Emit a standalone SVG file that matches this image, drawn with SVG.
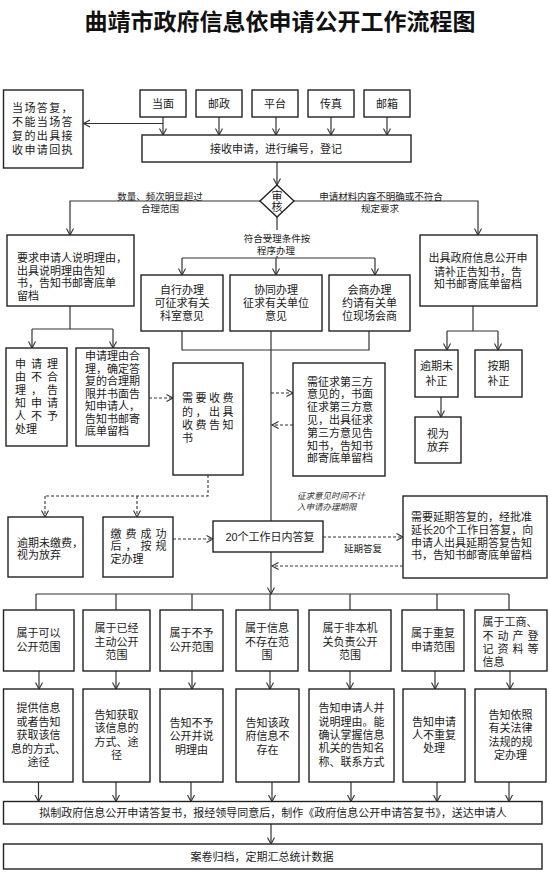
<svg xmlns="http://www.w3.org/2000/svg" width="550" height="874" viewBox="0 0 550 874">
<defs>
<style>
.b{fill:#fff;stroke:#222;stroke-width:1.4}
.c{fill:none;stroke:#333;stroke-width:1.2}
.d{fill:none;stroke:#333;stroke-width:1.1;stroke-dasharray:3 2}
.ar{marker-end:url(#a)}
text{font-family:"Liberation Sans","Noto Sans CJK SC",sans-serif;fill:#1a1a1a;font-size:11px}
.m{text-anchor:middle}
.s{font-size:9.5px}
.k{font-size:8.5px;font-style:italic;fill:#333}
.t{font-size:23px;font-weight:bold;fill:#111}
</style>
<marker id="a" markerWidth="10" markerHeight="10" refX="7" refY="4" orient="auto" markerUnits="userSpaceOnUse">
<path d="M0.5,0.5 L7,4 L0.5,7.5" fill="none" stroke="#333" stroke-width="1.1"/>
</marker>
</defs>
<rect width="550" height="874" fill="#fff"/>
<text class="t m" x="280" y="30">曲靖市政府信息依申请公开工作流程图</text>

<g id="connectors">
<path class="c ar" d="M163,117V135"/>
<path class="c ar" d="M219,117V135"/>
<path class="c ar" d="M276,117V135"/>
<path class="c ar" d="M331,117V135"/>
<path class="c ar" d="M387,117V135"/>
<path class="c ar" d="M163,123.5H83.5"/>
<path class="c ar" d="M277,162V185"/>
<path class="c ar" d="M260,201H70V235"/>
<path class="c ar" d="M294,201H478V235"/>
<path class="c" d="M277,217V258"/>
<path class="c" d="M182,258H375"/>
<path class="c ar" d="M182,258V275"/>
<path class="c ar" d="M276,258V275"/>
<path class="c ar" d="M375,258V275"/>
<path class="c" d="M182,331V350H369V331"/>
<path class="c" d="M271,331V521"/>
<path class="c" d="M70,306V329"/>
<path class="c" d="M32,329H113"/>
<path class="c ar" d="M32,329V348"/>
<path class="c ar" d="M113,329V348"/>
<path class="c" d="M473,306V331"/>
<path class="c" d="M447,331H498"/>
<path class="c ar" d="M447,331V350"/>
<path class="c ar" d="M498,331V350"/>
<path class="c ar" d="M441,397V417"/>
<path class="d ar" d="M149,398H173"/>
<path class="d" d="M208,475V496H45"/>
<path class="d ar" d="M45,496V517"/>
<path class="d ar" d="M137,496V517"/>
<path class="d ar" d="M271,393H293"/>
<path class="d ar" d="M293,425H272"/>
<path class="d ar" d="M173,539H213"/>
<path class="d ar" d="M323,537H403"/>
<path class="d ar" d="M403,566H272"/>
<path class="c ar" d="M271,552V594"/>
<path class="c" d="M36,594H509"/>
<path class="c" d="M36,594V610M116,594V610M192,594V610M270,594V610M350,594V610M437,594V610M509,594V610"/>
<path class="c ar" d="M39,671V689"/>
<path class="c ar" d="M116,671V689"/>
<path class="c ar" d="M192,671V689"/>
<path class="c ar" d="M270,671V689"/>
<path class="c ar" d="M350,671V689"/>
<path class="c ar" d="M435,671V689"/>
<path class="c ar" d="M510,671V689"/>
<path class="c ar" d="M38.5,782V801.5"/>
<path class="c ar" d="M116,782V801.5"/>
<path class="c ar" d="M191,782V801.5"/>
<path class="c ar" d="M272,782V801.5"/>
<path class="c ar" d="M351,782V801.5"/>
<path class="c ar" d="M437,782V801.5"/>
<path class="c ar" d="M509,782V801.5"/>
<path class="c ar" d="M271,824V844"/>
</g>

<g id="labels">
<text class="s m"><tspan x="160" y="199.5">数量、频次明显超过</tspan><tspan x="160" y="211.5">合理范围</tspan></text>
<text class="s m"><tspan x="381" y="199.5">申请材料内容不明确或不符合</tspan><tspan x="380" y="211.5">规定要求</tspan></text>
<rect x="240" y="230" width="72" height="26" fill="#fff"/>
<text class="s m"><tspan x="277" y="241.5">符合受理条件按</tspan><tspan x="276" y="253.5">程序办理</tspan></text>
<text class="k"><tspan x="297" y="498.5">征求意见时间不计</tspan><tspan x="297" y="510">入申请办理期限</tspan></text>
<text class="s m" x="363" y="552">延期答复</text>
</g>

<g id="n-dangmian"><rect class="b" x="140" y="90" width="46" height="27"/><text class="m" x="163" y="107.5">当面</text></g>
<g id="n-youzheng"><rect class="b" x="196" y="90" width="46" height="27"/><text class="m" x="219" y="107.5">邮政</text></g>
<g id="n-pingtai"><rect class="b" x="252" y="90" width="46" height="27"/><text class="m" x="275" y="107.5">平台</text></g>
<g id="n-chuanzhen"><rect class="b" x="308" y="90" width="46" height="27"/><text class="m" x="331" y="107.5">传真</text></g>
<g id="n-youxiang"><rect class="b" x="364" y="90" width="46" height="27"/><text class="m" x="387" y="107.5">邮箱</text></g>

<g id="n-dangchang"><rect class="b" x="3.5" y="90" width="79.5" height="78"/>
<text letter-spacing="1.4"><tspan x="12" y="112">当场答复，</tspan><tspan x="12" y="126">不能当场答</tspan><tspan x="12" y="140">复的出具接</tspan><tspan x="12" y="154">收申请回执</tspan></text></g>

<g id="n-jieshou"><rect class="b" x="142" y="135" width="269" height="27"/><text class="m" x="276" y="152.5">接收申请，进行编号，登记</text></g>

<g id="n-shenhe"><polygon class="b" points="277,185 294,201 277,217 260,201"/>
<text class="m" font-size="8.5"><tspan x="277" y="200">审</tspan><tspan x="277" y="211">核</tspan></text></g>

<g id="n-yaoqiu"><rect class="b" x="7" y="235" width="127" height="71"/>
<text><tspan x="17" y="262">要求申请人说明理由，</tspan><tspan x="17" y="274.5">出具说明理由告知</tspan><tspan x="17" y="287">书，告知书邮寄底单</tspan><tspan x="17" y="299.5">留档</tspan></text></g>

<g id="n-chuju"><rect class="b" x="420" y="235" width="117" height="71"/>
<text class="m"><tspan x="478" y="262">出具政府信息公开申</tspan><tspan x="478" y="275.5">请补正告知书，告</tspan><tspan x="478" y="288">知书邮寄底单留档</tspan></text></g>

<g id="n-zixing"><rect class="b" x="141" y="275" width="82" height="56"/>
<text class="m"><tspan x="182" y="294">自行办理</tspan><tspan x="182" y="307">可征求有关</tspan><tspan x="182" y="320">科室意见</tspan></text></g>
<g id="n-xietong"><rect class="b" x="230" y="275" width="92" height="56"/>
<text class="m"><tspan x="276" y="294">协同办理</tspan><tspan x="276" y="307">征求有关单位</tspan><tspan x="276" y="320">意见</tspan></text></g>
<g id="n-huishang"><rect class="b" x="329" y="275" width="81" height="56"/>
<text class="m"><tspan x="369.5" y="294">会商办理</tspan><tspan x="369.5" y="307">约请有关单</tspan><tspan x="369.5" y="320">位现场会商</tspan></text></g>

<g id="n-buheli"><rect class="b" x="6" y="348" width="61" height="98"/>
<text><tspan x="15 31 47" y="368">申请理</tspan><tspan x="15 31 47" y="381">由不合</tspan><tspan x="15 31 47" y="394">理，告</tspan><tspan x="15 31 47" y="407">知申请</tspan><tspan x="15 31 47" y="420">人不予</tspan><tspan x="15" y="433">处理</tspan></text></g>

<g id="n-heli"><rect class="b" x="76" y="348" width="73" height="98"/>
<text><tspan x="85" y="360">申请理由合</tspan><tspan x="85" y="372.5">理，确定答</tspan><tspan x="85" y="385">复的合理期</tspan><tspan x="85" y="397.5">限并书面告</tspan><tspan x="85" y="410">知申请人，</tspan><tspan x="85" y="422.5">告知书邮寄</tspan><tspan x="85" y="435">底单留档</tspan></text></g>

<g id="n-shoufei"><rect class="b" x="173" y="363" width="70" height="112"/>
<text><tspan x="182 195.5 209 222.5" y="402">需要收费</tspan><tspan x="182 195.5 209 222.5" y="416">的，出具</tspan><tspan x="182 195.5 209 222.5" y="429">收费告知</tspan><tspan x="182" y="442">书</tspan></text></g>

<g id="n-disanfang"><rect class="b" x="293" y="363" width="92" height="113"/>
<text><tspan x="307" y="385.5">需征求第三方</tspan><tspan x="307" y="398.3">意见的，书面</tspan><tspan x="307" y="411.1">征求第三方意</tspan><tspan x="307" y="423.9">见，出具征求</tspan><tspan x="307" y="436.7">第三方意见告</tspan><tspan x="307" y="449.5">知书，告知书</tspan><tspan x="307" y="462.3">邮寄底单留档</tspan></text></g>

<g id="n-yuqiweibuzheng"><rect class="b" x="415" y="350" width="43" height="47"/>
<text class="m"><tspan x="436.5" y="370">逾期未</tspan><tspan x="436.5" y="384.5">补正</tspan></text></g>
<g id="n-anqibuzheng"><rect class="b" x="475" y="350" width="47" height="47"/>
<text class="m"><tspan x="498.5" y="370">按期</tspan><tspan x="498.5" y="384.5">补正</tspan></text></g>
<g id="n-fangqi"><rect class="b" x="415" y="417" width="46" height="46"/>
<text class="m"><tspan x="438" y="438">视为</tspan><tspan x="438" y="451">放弃</tspan></text></g>

<g id="n-weijiaofei"><rect class="b" x="8" y="517" width="75" height="60"/>
<text><tspan x="17" y="546.5">逾期未缴费，</tspan><tspan x="17" y="559">视为放弃</tspan></text></g>
<g id="n-jiaofei"><rect class="b" x="103" y="517" width="70" height="60"/>
<text><tspan x="110.5 125.5 140.5 155.5" y="537.5">缴费成功</tspan><tspan x="110.5 125.5 140.5 155.5" y="550">后，按规</tspan><tspan x="110.5" y="562.5">定办理</tspan></text></g>

<g id="n-20ri"><rect class="b" x="213" y="521" width="110" height="31"/>
<text class="m" x="270" y="540.5">20个工作日内答复</text></g>

<g id="n-yanqi"><rect class="b" x="403" y="496" width="144" height="82"/>
<text font-size="11.3"><tspan x="411" y="521">需要延期答复的，经批准</tspan><tspan x="411" y="533.8">延长20个工作日答复，向</tspan><tspan x="411" y="546.6">申请人出具延期答复告知</tspan><tspan x="411" y="559.4">书，告知书邮寄底单留档</tspan></text></g>

<g id="n-r1-1"><rect class="b" x="3.5" y="610" width="70.5" height="61"/>
<text class="m"><tspan x="38.5" y="637">属于可以</tspan><tspan x="38.5" y="651">公开范围</tspan></text></g>
<g id="n-r1-2"><rect class="b" x="83" y="610" width="67" height="61"/>
<text class="m"><tspan x="116.5" y="632">属于已经</tspan><tspan x="116.5" y="645.5">主动公开</tspan><tspan x="116.5" y="659">范围</tspan></text></g>
<g id="n-r1-3"><rect class="b" x="160" y="610" width="63" height="61"/>
<text class="m"><tspan x="191.5" y="637">属于不予</tspan><tspan x="191.5" y="651">公开范围</tspan></text></g>
<g id="n-r1-4"><rect class="b" x="236" y="610" width="62" height="61"/>
<text class="m"><tspan x="267" y="632">属于信息</tspan><tspan x="267" y="645.5">不存在范</tspan><tspan x="267" y="659">围</tspan></text></g>
<g id="n-r1-5"><rect class="b" x="309" y="610" width="82" height="61"/>
<text class="m"><tspan x="350" y="632">属于非本机</tspan><tspan x="350" y="645.5">关负责公开</tspan><tspan x="350" y="659">范围</tspan></text></g>
<g id="n-r1-6"><rect class="b" x="402" y="610" width="62" height="61"/>
<text class="m"><tspan x="433" y="637">属于重复</tspan><tspan x="433" y="651">申请范围</tspan></text></g>
<g id="n-r1-7"><rect class="b" x="475" y="610" width="72" height="61"/>
<text><tspan x="482.5" y="626">属于工商、</tspan><tspan x="482.5 497.5 512.5 527.5" y="640">不动产登</tspan><tspan x="482.5 497.5 512.5 527.5" y="653">记资料等</tspan><tspan x="482.5" y="666">信息</tspan></text></g>

<g id="n-r2-1"><rect class="b" x="3.5" y="689" width="69.5" height="93"/>
<text class="m"><tspan x="38.5" y="712">提供信息</tspan><tspan x="38.5" y="725.5">或者告知</tspan><tspan x="38.5" y="739">获取该信</tspan><tspan x="38.5" y="752.5">息的方式、</tspan><tspan x="38.5" y="766">途径</tspan></text></g>
<g id="n-r2-2"><rect class="b" x="83" y="689" width="67" height="93"/>
<text class="m"><tspan x="116.5" y="719">告知获取</tspan><tspan x="116.5" y="732">该信息的</tspan><tspan x="116.5" y="746">方式、途</tspan><tspan x="116.5" y="759">径</tspan></text></g>
<g id="n-r2-3"><rect class="b" x="160" y="689" width="63" height="93"/>
<text class="m"><tspan x="191.5" y="727">告知不予</tspan><tspan x="191.5" y="740">公开并说</tspan><tspan x="191.5" y="754">明理由</tspan></text></g>
<g id="n-r2-4"><rect class="b" x="236" y="689" width="63" height="93"/>
<text class="m"><tspan x="267.5" y="727">告知该政</tspan><tspan x="267.5" y="740">府信息不</tspan><tspan x="267.5" y="754">存在</tspan></text></g>
<g id="n-r2-5"><rect class="b" x="309" y="689" width="85" height="93"/>
<text class="m"><tspan x="351.5" y="712">告知申请人并</tspan><tspan x="351.5" y="726">说明理由。能</tspan><tspan x="351.5" y="739">确认掌握信息</tspan><tspan x="351.5" y="752">机关的告知名</tspan><tspan x="351.5" y="766">称、联系方式</tspan></text></g>
<g id="n-r2-6"><rect class="b" x="403" y="689" width="62" height="93"/>
<text class="m"><tspan x="434" y="726">告知申请</tspan><tspan x="434" y="739">人不重复</tspan><tspan x="434" y="752">处理</tspan></text></g>
<g id="n-r2-7"><rect class="b" x="475" y="689" width="71" height="93"/>
<text class="m"><tspan x="510.5" y="719">告知依照</tspan><tspan x="510.5" y="732">有关法律</tspan><tspan x="510.5" y="746">法规的规</tspan><tspan x="510.5" y="759">定办理</tspan></text></g>

<g id="n-nizhi"><rect class="b" x="3.5" y="801.5" width="538.5" height="22.5"/>
<text class="m" x="273" y="817" font-size="10.8">拟制政府信息公开申请答复书，报经领导同意后，制作《政府信息公开申请答复书》，送达申请人</text></g>
<g id="n-anjuan"><rect class="b" x="3.5" y="844" width="538.5" height="25"/>
<text class="m" x="262" y="860.5">案卷归档，定期汇总统计数据</text></g>
</svg>
